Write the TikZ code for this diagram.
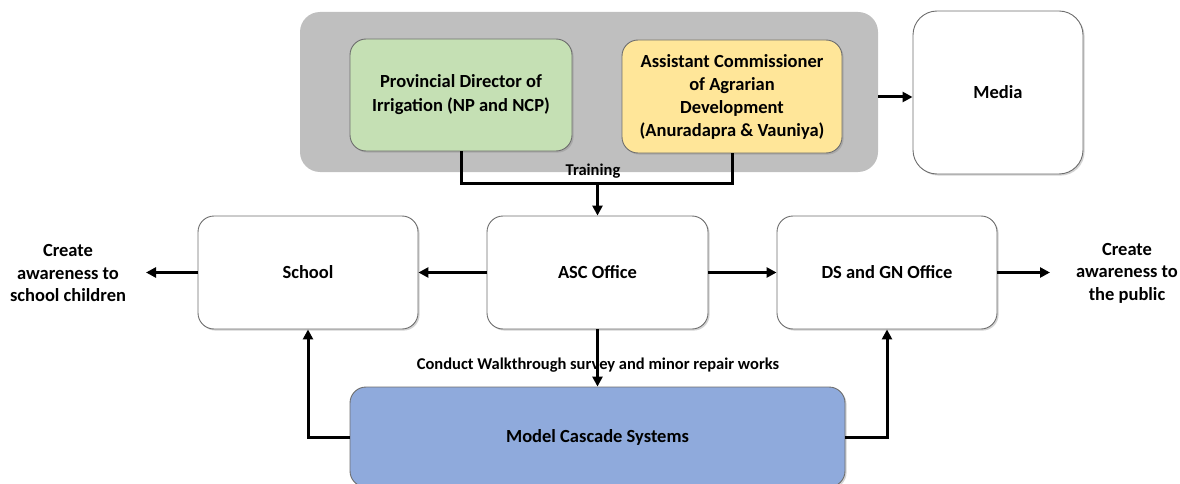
\documentclass[tikz,border=0pt]{standalone}
\usepackage{fontspec}
\setmainfont{Carlito}
\usetikzlibrary{arrows.meta,shadows,positioning}
\definecolor{groupgray}{HTML}{BFBFBF}
\definecolor{irrgreen}{HTML}{C5E0B4}
\definecolor{agryellow}{HTML}{FFE699}
\definecolor{cascblue}{HTML}{8FAADC}
\definecolor{edgegray}{HTML}{6E6E6E}
\tikzset{
  box/.style={draw=edgegray, line width=0.9pt, fill=white, rounded corners=16pt,
    align=center, inner sep=0pt, font=\bfseries\fontsize{18.5}{24}\selectfont,
    drop shadow={shadow xshift=1.6pt, shadow yshift=-1.6pt, opacity=0.35}},
  wire/.style={line width=3pt, line cap=butt},
  arrow/.style={wire, -{Triangle[length=10pt,width=10pt]}},
  note/.style={align=center, inner sep=0pt, font=\bfseries\fontsize{18.5}{22.5}\selectfont},
  small/.style={inner sep=0pt, font=\bfseries\fontsize{16.5}{18}\selectfont}
}
\begin{document}
\begin{tikzpicture}[x=1pt,y=-1pt]
\useasboundingbox (0,0) rectangle (1180,484);
\clip (0,0) rectangle (1180,484);

% grey frame holding the two provincial offices
\node[fill=groupgray, rounded corners=20pt, minimum width=578pt, minimum height=160pt,
      inner sep=0pt] (group) at (589,92) {};

\node[box, fill=irrgreen, minimum width=222pt, minimum height=112pt] (green) at (461,95)
  {Provincial Director of\\Irrigation (NP and NCP)};
\node[box, fill=agryellow, minimum width=220pt, minimum height=113pt,
      font=\bfseries\fontsize{18.5}{23}\selectfont] (yellow) at (732,96.5)
  {Assistant Commissioner\\of Agrarian\\Development\\(Anuradapra \& Vauniya)};

\node[box, rounded corners=24pt, minimum width=170pt, minimum height=163pt] (media) at (998,92.5) {Media};

% middle row
\node[box, minimum width=220pt, minimum height=113pt] (school) at (308,272.5) {School};
\node[box, minimum width=221pt, minimum height=113pt] (asc) at (597.5,272.5) {ASC Office};
\node[box, minimum width=220pt, minimum height=113pt] (ds) at (887,272.5) {DS and GN Office};

\node[box, fill=cascblue, minimum width=495pt, minimum height=100pt] (model) at (597.5,437) {Model Cascade Systems};

% outcome notes
\node[note] (aw1) at (68,273) {Create\\awareness to\\school children};
\node[note] (aw2) at (1127,273) {Create\\awareness to\\the public};
\coordinate (e1) at (146,272.5);
\coordinate (e2) at (1050,272.5);

% connectors
\coordinate (j) at (597.5,183);
\draw[wire] (green.south) |- (j) -| (yellow.south);
\draw[arrow] (j) -- (asc.north);
\node[small] (train) at (593,171) {Training};

\draw[arrow] (group.east |- 0,97) -- (media.west |- 0,97);

\draw[arrow] (asc.west) -- (school.east);
\draw[arrow] (asc.east) -- (ds.west);
\draw[arrow] (school.west) -- (e1);
\draw[arrow] (ds.east) -- (e2);

\draw[arrow] (asc.south) -- (model.north);
\node[small] (walk) at (598,365)
  {Conduct Walkthrough survey and minor repair works};

\draw[arrow] (model.west) -| (school.south);
\draw[arrow] (model.east) -| (ds.south);
\end{tikzpicture}
\end{document}
